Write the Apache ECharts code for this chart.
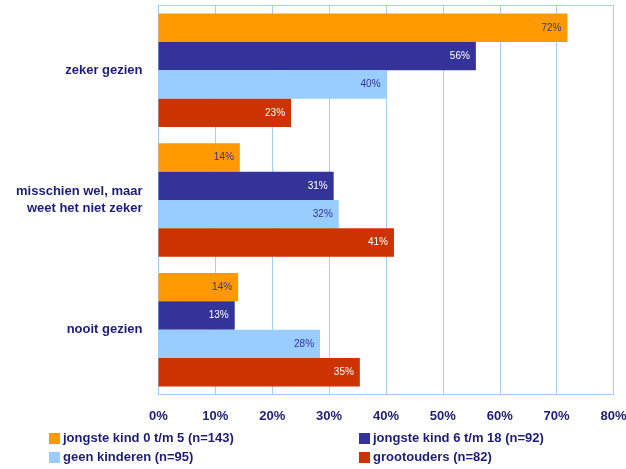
<!DOCTYPE html>
<html><head><meta charset="utf-8">
<script src="https://cdn.jsdelivr.net/npm/echarts@6/dist/echarts.min.js"></script>
<style>html,body{margin:0;padding:0;background:#fff}#c{width:626px;height:469px}</style>
</head><body><div id="c"></div>
<script>
var categories = ['zeker gezien', 'misschien wel, maar\nweet het niet zeker', 'nooit gezien'];
var seriesNames = ['jongste kind 0 t/m 5 (n=143)', 'jongste kind 6 t/m 18 (n=92)', 'geen kinderen (n=95)', 'grootouders (n=82)'];
var kind0tm5 = [71.9, 14.3, 14.0];
var kind6tm18 = [55.8, 30.8, 13.4];
var geenKinderen = [40.1, 31.7, 28.4];
var grootouders = [23.3, 41.4, 35.4];
var xTicks = [0, 10, 20, 30, 40, 50, 60, 70, 80];

var colors = ['#FF9900', '#333399', '#99CCFF', '#CC3300'];
var labelColors = ['#333399', '#ffffff', '#333399', '#ffffff'];
var dataSets = [kind0tm5, kind6tm18, geenKinderen, grootouders];
var navy = '#1c1c7c';
var font = 'Liberation Sans, Arial, sans-serif';

var series = dataSets.map(function (d, i) {
  return {
    name: seriesNames[i], type: 'bar', data: d,
    barGap: '0%', barCategoryGap: '12.5%',
    itemStyle: { color: colors[i] },
    label: { show: true, position: 'insideRight', distance: 6, color: labelColors[i],
      fontSize: 10, fontFamily: font,
      formatter: function (p) { return Math.round(p.value) + '%'; } }
  };
});

var legendPos = [[49, 432], [359, 432], [49, 451], [359, 451]];
var legends = seriesNames.map(function (n, i) {
  return { data: [n], left: legendPos[i][0], top: legendPos[i][1], itemWidth: 11, itemHeight: 11, itemGap: 4,
    textStyle: { color: navy, fontWeight: 'bold', fontSize: 13, fontFamily: font, padding: [0, 0, 0, -2] },
    icon: 'rect', selectedMode: false, padding: 0 };
});

var chart = echarts.init(document.getElementById('c'));
chart.setOption({
  animation: false,
  grid: { left: 158.5, right: 12.5, top: 5.5, bottom: 74.5, show: true, borderColor: '#A6CFF5', borderWidth: 1,
    containLabel: false, outerBoundsMode: 'none' },
  xAxis: { type: 'value', min: xTicks[0], max: xTicks[xTicks.length - 1], interval: 10,
    axisLine: { show: true, lineStyle: { color: '#99CCFF' } }, axisTick: { show: false },
    splitLine: { lineStyle: { color: '#A6CFF5' } },
    axisLabel: { formatter: '{value}%', color: navy, fontWeight: 'bold', fontSize: 13, fontFamily: font, margin: 15 } },
  yAxis: { type: 'category', data: categories, inverse: true,
    axisLine: { show: true, lineStyle: { color: '#99CCFF' } }, axisTick: { show: false },
    axisLabel: { color: navy, fontWeight: 'bold', fontSize: 13, fontFamily: font, margin: 16, align: 'right', lineHeight: 17 } },
  legend: legends,
  series: series
});
</script></body></html>
